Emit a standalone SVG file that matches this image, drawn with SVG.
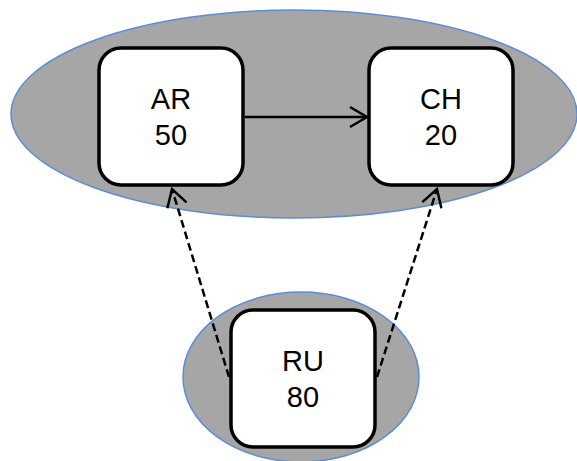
<svg xmlns="http://www.w3.org/2000/svg" width="577" height="461" viewBox="0 0 577 461">
<defs>
<style>
.grp{fill:#A6A6A6;stroke:#5B8DD6;stroke-width:1.5}
.box{fill:#fff;stroke:#000;stroke-width:3.5}
.lbl{font-family:"Liberation Sans",Arial,sans-serif;font-size:29px;fill:#000;text-anchor:middle}
.edge{fill:none;stroke:#000;stroke-width:2.5}
.dash{stroke-dasharray:8,4}
</style>
<marker id="open" viewBox="0 0 20 24" refX="18" refY="12" markerWidth="20" markerHeight="24" markerUnits="userSpaceOnUse" orient="auto">
<path d="M1,2 L18,12 L1,22" fill="none" stroke="#000" stroke-width="2.5"/>
</marker>
</defs>
<g id="group-top"><ellipse class="grp" cx="294" cy="114" rx="283" ry="104"/></g>
<g id="group-bottom"><ellipse class="grp" cx="301" cy="377" rx="118" ry="85"/></g>
<g id="edges">
<line class="edge" x1="245" y1="117" x2="367" y2="117" marker-end="url(#open)"/>
<line class="edge dash" x1="229" y1="377" x2="172" y2="189" marker-end="url(#open)"/>
<line class="edge dash" x1="377" y1="377" x2="437" y2="189" marker-end="url(#open)"/>
</g>
<g id="AR"><rect class="box" x="99" y="48" width="144" height="137" rx="22"/><text class="lbl" x="171" y="109">AR</text><text class="lbl" x="171" y="145">50</text></g>
<g id="CH"><rect class="box" x="369" y="48" width="144" height="137" rx="22"/><text class="lbl" x="441" y="109">CH</text><text class="lbl" x="441" y="145">20</text></g>
<g id="RU"><rect class="box" x="231" y="310" width="144" height="137" rx="22"/><text class="lbl" x="303" y="371">RU</text><text class="lbl" x="303" y="407">80</text></g>
</svg>
